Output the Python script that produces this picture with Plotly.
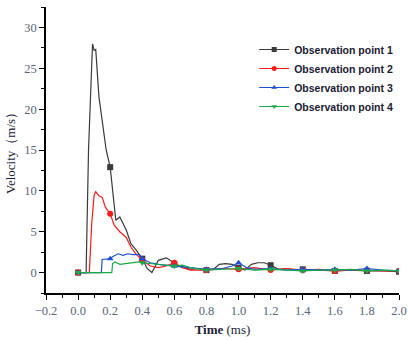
import numpy as np
import plotly.graph_objects as go

# ---- data ----
t1 = [0, 0.05, 0.065, 0.085, 0.09, 0.1, 0.11, 0.13, 0.175, 0.2, 0.235, 0.26, 0.3, 0.33, 0.36, 0.4,
      0.43, 0.46, 0.5, 0.55, 0.59, 0.6, 0.65, 0.7, 0.75, 0.8, 0.85, 0.88, 0.92, 0.96, 1.0, 1.04,
      1.08, 1.12, 1.16, 1.2, 1.25, 1.3, 1.35, 1.4, 1.5, 1.6, 1.7, 1.8, 1.9, 2.0]
v1 = [0, 0, 15, 27.5, 28, 27.2, 27.3, 21.5, 15, 12.9, 6.4, 6.8, 5.2, 3.5, 2.8, 1.7,
      0.5, 0.0, 1.5, 1.8, 1.3, 1.0, 0.7, 0.4, 0.5, 0.3, 0.5, 1.0, 1.1, 1.0, 0.6, 0.3,
      1.0, 1.2, 1.2, 0.9, 0.4, 0.5, 0.3, 0.4, 0.3, 0.2, 0.3, 0.2, 0.2, 0.1]

t2 = [0, 0.07, 0.085, 0.1, 0.11, 0.13, 0.15, 0.17, 0.2, 0.225, 0.26, 0.3, 0.33, 0.36, 0.4, 0.45,
      0.5, 0.55, 0.6, 0.65, 0.7, 0.8, 0.9, 1.0, 1.1, 1.2, 1.3, 1.4, 1.5, 1.6, 1.7, 1.8, 1.9, 2.0]
v2 = [0, 0, 6, 9.5, 9.9, 9.4, 9.2, 8.0, 7.2, 5.8, 5.0, 4.3, 3.1, 2.3, 1.5, 0.8,
      0.6, 0.8, 1.2, 0.6, 0.3, 0.3, 0.5, 0.4, 0.6, 0.3, 0.5, 0.3, 0.4, 0.2, 0.3, 0.3, 0.2, 0.2]

t3 = [0, 0.145, 0.15, 0.2, 0.22, 0.25, 0.28, 0.31, 0.34, 0.38, 0.4, 0.45, 0.5, 0.55, 0.6, 0.7,
      0.8, 0.9, 0.96, 1.0, 1.05, 1.1, 1.2, 1.3, 1.4, 1.5, 1.6, 1.7, 1.8, 1.9, 2.0]
v3 = [0, 0, 1.6, 1.7, 2.0, 2.3, 2.1, 2.3, 2.2, 2.2, 1.7, 1.2, 1.0, 0.9, 0.8, 0.6,
      0.4, 0.5, 0.8, 1.2, 0.6, 0.4, 0.5, 0.3, 0.4, 0.3, 0.4, 0.3, 0.5, 0.3, 0.2]

t4 = [0, 0.21, 0.215, 0.23, 0.26, 0.3, 0.35, 0.38, 0.4, 0.45, 0.5, 0.55, 0.6, 0.65, 0.7, 0.8,
      0.9, 1.0, 1.1, 1.2, 1.3, 1.4, 1.5, 1.6, 1.7, 1.8, 1.9, 2.0]
v4 = [0, 0, 1.1, 1.3, 1.0, 1.1, 1.2, 1.3, 1.2, 1.1, 1.0, 0.9, 0.8, 0.9, 0.6, 0.3,
      0.4, 0.5, 0.3, 0.4, 0.3, 0.2, 0.3, 0.3, 0.4, 0.2, 0.3, 0.2]

names = ["Observation point 1", "Observation point 2", "Observation point 3", "Observation point 4"]
x_ticks = [-0.2, 0.0, 0.2, 0.4, 0.6, 0.8, 1.0, 1.2, 1.4, 1.6, 1.8, 2.0]
y_ticks = [0, 5, 10, 15, 20, 25, 30]

colors = ["#3a3a3a", "#ff1a1a", "#1f4fd8", "#1aaa4a"]
symbols = ["square", "circle", "triangle-up", "triangle-down"]

fig = go.Figure()
series = [(t1, v1), (t2, v2), (t3, v3), (t4, v4)]
for (t, v), name, c, s in zip(series, names, colors, symbols):
    t = np.array(t)
    v = np.array(v)
    fig.add_trace(go.Scatter(x=t, y=v, mode="lines", line=dict(color=c, width=1.2),
                             showlegend=False, hoverinfo="skip"))
    k = t / 0.2
    mask = np.isclose(k, np.round(k))
    fig.add_trace(go.Scatter(x=t[mask], y=v[mask], mode="markers",
                             marker=dict(color=c, symbol=s, size=6),
                             showlegend=False))
for name, c, s in zip(names, colors, symbols):
    fig.add_trace(go.Scatter(x=[None], y=[None], mode="lines+markers", name=name,
                             line=dict(color=c, width=1.2),
                             marker=dict(color=c, symbol=s, size=5)))

tickfont = dict(family="Liberation Serif, Times New Roman, serif", size=12.5, color="#5a6680")
fig.update_layout(
    width=408, height=340,
    margin=dict(l=46, r=9, t=7, b=47, autoexpand=False),
    paper_bgcolor="white", plot_bgcolor="white",
    showlegend=True,
    legend=dict(x=0.623, y=0.897, xref="container", yref="container",
                xanchor="left", yanchor="top",
                font=dict(family="Liberation Sans, Arial, sans-serif", size=10.5, color="#1a1a33",
                          weight="bold"),
                bgcolor="rgba(0,0,0,0)", tracegroupgap=0),
    xaxis=dict(range=[-0.2, 2.0], tickvals=x_ticks, tickformat=".1f",
               showgrid=False, zeroline=False,
               showline=True, linecolor="black", linewidth=1.5,
               ticks="outside", ticklen=5, tickwidth=1.2, tickcolor="black",
               minor=dict(dtick=0.1, ticks="outside", ticklen=3, tickcolor="black", tickwidth=1),
               tickfont=tickfont,
               title=dict(text="<b>Time</b> (ms)", standoff=8,
                          font=dict(family="Liberation Serif, Times New Roman, serif", size=13, color="#222233"))),
    yaxis=dict(range=[-2.5, 32.5], tickvals=y_ticks,
               showgrid=False, zeroline=False,
               showline=True, linecolor="black", linewidth=1.5,
               ticks="outside", ticklen=5, tickwidth=1.2, tickcolor="black",
               minor=dict(dtick=2.5, tick0=0, ticks="outside", ticklen=3, tickcolor="black", tickwidth=1),
               tickfont=tickfont,
               title=dict(text="Velocity（m/s）", standoff=6,
                          font=dict(family="Liberation Serif, Times New Roman, serif", size=13, color="#222233"))),
)

fig.write_html("out.html")
